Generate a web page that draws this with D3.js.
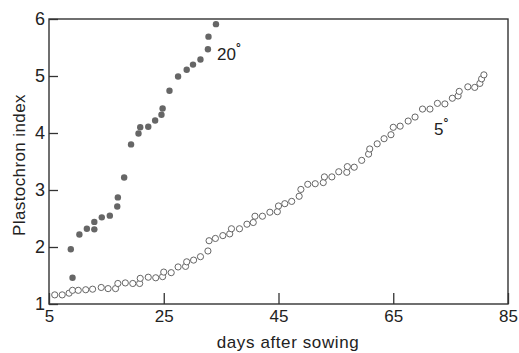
<!DOCTYPE html>
<html>
<head>
<meta charset="utf-8">
<script src="https://cdn.jsdelivr.net/npm/d3@7"></script>
<style>
  body { margin: 0; background: #fff; }
  text { font-family: "Liberation Sans", Arial, sans-serif; fill: #222; }
</style>
</head>
<body>
<svg id="chart" width="519" height="353"></svg>
<script>
// 20 degree series (filled dots): days after sowing, plastochron index
const days20 = [9.1, 8.8, 10.3, 11.6, 12.9, 12.9, 14.2, 15.6, 16.9, 17.0, 18.1, 19.3, 20.6,
  20.9, 22.3, 23.5, 24.6, 24.8, 26.0, 27.5, 29.0, 30.1, 31.4, 32.7, 32.8, 34.1];
const pi20 = [1.46, 1.96, 2.22, 2.32, 2.31, 2.44, 2.52, 2.55, 2.71, 2.87, 3.22, 3.80, 3.99,
  4.10, 4.11, 4.22, 4.32, 4.43, 4.74, 4.99, 5.11, 5.20, 5.29, 5.47, 5.69, 5.91];

// 5 degree series (open circles)
const days5 = [6.0, 7.3, 8.5, 9.1, 10.1, 11.4, 12.6, 14.1, 15.3, 16.6, 17.0, 18.3, 19.6, 20.8,
  20.9, 22.3, 23.6, 24.8, 25.0, 26.3, 27.5, 28.8, 29.0, 30.2, 31.4, 32.7, 32.9, 34.0, 35.3,
  36.5, 36.8, 38.2, 39.5, 40.6, 40.9, 42.2, 43.5, 44.8, 45.0, 46.1, 47.3, 48.6, 48.9, 50.1,
  51.4, 52.8, 53.0, 54.3, 55.5, 56.9, 57.0, 58.2, 59.5, 60.7, 60.9, 62.2, 63.4, 64.6, 65.0,
  66.2, 67.6, 68.8, 70.1, 71.4, 72.7, 74.0, 75.3, 76.3, 76.5, 78.0, 79.2, 80.1, 80.4, 80.8];
const pi5 = [1.16, 1.16, 1.19, 1.24, 1.24, 1.25, 1.26, 1.29, 1.27, 1.27, 1.36, 1.37, 1.36, 1.36,
  1.45, 1.47, 1.46, 1.48, 1.56, 1.55, 1.65, 1.66, 1.74, 1.77, 1.83, 1.93, 2.11, 2.15, 2.20,
  2.23, 2.32, 2.32, 2.40, 2.43, 2.54, 2.54, 2.61, 2.62, 2.72, 2.76, 2.80, 2.89, 3.01, 3.10,
  3.11, 3.13, 3.23, 3.23, 3.32, 3.31, 3.41, 3.40, 3.52, 3.63, 3.72, 3.81, 3.90, 3.97, 4.10,
  4.12, 4.21, 4.28, 4.42, 4.42, 4.52, 4.51, 4.61, 4.65, 4.73, 4.81, 4.80, 4.87, 4.95, 5.02];

const xTicks = [5, 25, 45, 65, 85];
const yTicks = [1, 2, 3, 4, 5, 6];
const xTitle = "days after sowing";
const yTitle = "Plastochron index";
const labels = [{text: "20", x: 34.3, y: 5.28}, {text: "5", x: 72.1, y: 3.96}];

const svg = d3.select("#chart");
const margin = {top: 19, right: 11, bottom: 49, left: 49};
const width = 519 - margin.left - margin.right;
const height = 353 - margin.top - margin.bottom;

const g = svg.append("g").attr("transform", `translate(${margin.left},${margin.top})`);

const x = d3.scaleLinear().domain([5, 85]).range([0, width]);
const y = d3.scaleLinear().domain([1, 6]).range([height, 0]);

// frame
g.append("rect")
  .attr("width", width).attr("height", height)
  .attr("fill", "none").attr("stroke", "#333").attr("stroke-width", 1.4);

const xAxis = g.append("g")
  .attr("transform", `translate(0,${height})`)
  .call(d3.axisBottom(x).tickValues(xTicks).tickFormat(d3.format("d")).tickSize(-11).tickPadding(6));
xAxis.select(".domain").remove();
xAxis.selectAll("line").attr("stroke", "#333").attr("stroke-width", 1.3);
xAxis.selectAll("text").attr("font-size", 17).attr("font-family", "Liberation Sans").attr("fill", "#222");

const yAxis = g.append("g")
  .call(d3.axisLeft(y).tickValues(yTicks).tickFormat(d3.format("d")).tickSize(-9).tickPadding(4));
yAxis.select(".domain").remove();
yAxis.selectAll("line").attr("stroke", "#333").attr("stroke-width", 1.3);
yAxis.selectAll("text").attr("font-size", 18).attr("font-family", "Liberation Sans").attr("fill", "#222");

// titles
svg.append("text")
  .attr("x", 288).attr("y", 348)
  .attr("text-anchor", "middle").attr("font-size", 17)
  .attr("letter-spacing", 0.6)
  .text(xTitle);

svg.append("text")
  .attr("transform", "translate(25,165) rotate(-90)")
  .attr("text-anchor", "middle").attr("font-size", 17)
  .attr("letter-spacing", 0.4)
  .text(yTitle);

// open circles (5 degrees)
g.selectAll(".c5")
  .data(days5.map((d, i) => [d, pi5[i]]))
  .enter().append("circle")
  .attr("class", "c5")
  .attr("cx", d => x(d[0])).attr("cy", d => y(d[1]))
  .attr("r", 3.1)
  .attr("fill", "#fff").attr("stroke", "#666").attr("stroke-width", 1);

// filled dots (20 degrees)
g.selectAll(".c20")
  .data(days20.map((d, i) => [d, pi20[i]]))
  .enter().append("circle")
  .attr("class", "c20")
  .attr("cx", d => x(d[0])).attr("cy", d => y(d[1]))
  .attr("r", 3.2)
  .attr("fill", "#666");

// series labels
labels.forEach(l => {
  const t = g.append("text")
    .attr("x", x(l.x)).attr("y", y(l.y))
    .attr("font-size", 17);
  t.append("tspan").text(l.text);
  t.append("tspan").attr("dy", -8).attr("font-size", 12).attr("font-weight", "bold").text("°");
});
</script>
</body>
</html>
